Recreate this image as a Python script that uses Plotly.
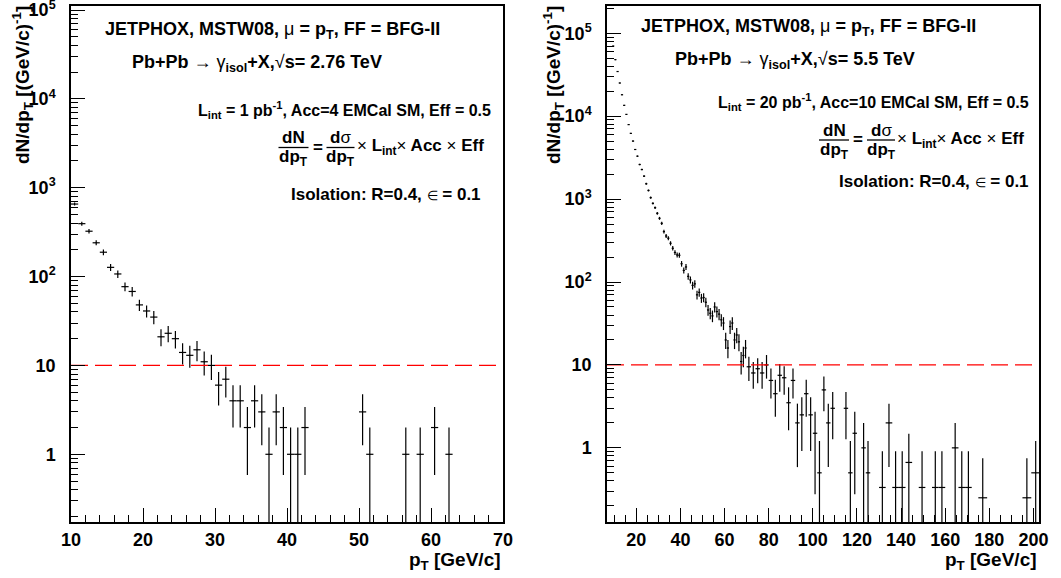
import numpy as np
import plotly.graph_objects as go

W, H = 1061, 578

# ---------------- data ----------------
# Left: Pb+Pb -> gamma_isol + X, sqrt(s)=2.76 TeV, L=1 pb^-1 (1 GeV/c bins)
left_pt = [10.5, 11.5, 12.5, 13.5, 14.5, 15.5, 16.5, 17.5, 18.5, 19.5,
           20.5, 21.5, 22.5, 23.5, 24.5, 25.5, 26.5, 27.5, 28.5, 29.5,
           30.5, 31.5, 32.5, 33.5, 34.5, 35.5, 36.5, 37.5, 38.5, 39.5,
           40.5, 41.5, 42.5, 50.5, 51.5, 56.5, 58.5, 60.5, 62.5]
left_binw = [1, 1, 1, 1, 1, 1, 1, 1, 1, 1,
             1, 1, 1, 1, 1, 1, 1, 1, 1, 1,
             1, 1, 1, 1, 1, 1, 1, 1, 1, 1,
             1, 1, 1, 1, 1, 1, 1, 1, 1]
left_dndpt = [655, 394, 324, 240, 188, 127, 107, 77, 68, 48,
              41, 35, 21, 23, 20, 14, 13, 15, 11, 10,
              6, 7, 4, 4, 2, 4, 3, 1, 3, 2,
              1, 1, 2, 3, 1, 1, 1, 2, 1]

# Right: sqrt(s)=5.5 TeV, L=20 pb^-1 (variable bins)
right_pt = [9.5, 10.5, 11.5, 12.5, 13.5, 14.5, 15.5, 16.5, 17.5, 18.5,
            19.5, 20.5, 21.5, 22.5, 23.5, 24.5, 25.5, 26.5, 27.5, 28.5,
            29.5, 30.5, 31.5, 32.5, 33.5, 34.5, 35.5, 36.5, 37.5, 38.5,
            39.5, 40.5, 41.5, 42.5, 43.5, 44.5, 45.5, 46.5, 47.5, 48.5,
            49.5, 50.5, 51.5, 52.5, 53.5, 54.5, 55.5, 56.5, 57.5, 58.5,
            59.5, 60.5, 61.5, 62.5, 63.5, 64.5, 65.5, 66.5, 67.5, 68.5,
            69.5,
            71, 73, 75, 77, 79, 81, 83, 85, 87, 89,
            91, 93, 95, 97, 99, 101, 103, 105, 107, 109,
            115, 117, 119, 123, 125,
            131.5, 134.5, 137.5, 140.5, 143.5, 149.5, 155.5, 158.5, 164.5, 167.5,
            170.5,
            177, 197, 201]
right_binw = [1] * 61 + [2] * 25 + [3] * 11 + [4] * 3
right_dndpt = [70000, 48000, 34500, 25100, 18100, 13500, 10500, 7900, 6200, 5000,
               3960, 3290, 2610, 2270, 1890, 1530, 1270, 1040, 887, 788,
               673, 586, 510, 405, 359, 337, 293, 255, 227, 212,
               210, 166, 138, 152, 117, 106, 91, 95, 70, 75,
               64, 65, 57, 46, 42, 39, 50, 44, 41, 35,
               32, 20, 16, 29, 32, 20, 23, 19, 11, 13,
               16,
               9.5, 8, 9, 8, 10, 6.5, 4.5, 7.5, 7, 3.5,
               6.5, 2, 2.5, 4.5, 2.5, 1.5, 0.5, 5, 2, 3,
               3, 0.5, 1.5, 1, 0.5,
               0.333, 2, 0.333, 0.333, 0.667, 0.333, 0.333, 0.333, 1, 0.333,
               0.333,
               0.25, 0.25, 0.5]

threshold = 10

y_ticklabels = ["1", "10", "10<sup>2</sup>", "10<sup>3</sup>", "10<sup>4</sup>", "10<sup>5</sup>"]
y_tickvals = [1, 10, 1e2, 1e3, 1e4, 1e5]
left_xticks = [10, 20, 30, 40, 50, 60, 70]
right_xticks = [20, 40, 60, 80, 100, 120, 140, 160, 180, 200]

# ---------------- layout helpers ----------------
def fx(px):
    return px / W

def fy(py):
    return 1 - py / H

FONT = "Liberation Sans"
BLACK = "#000000"

fig = go.Figure()

def add_hist(x, w, y, xa, ya):
    y = np.array(y, dtype=float)
    fig.add_trace(go.Scatter(
        x=x, y=y, mode="markers", xaxis=xa, yaxis=ya,
        marker=dict(size=1, color=BLACK),
        error_y=dict(type="data", array=np.sqrt(y), symmetric=True,
                     color=BLACK, thickness=1.2, width=0),
        error_x=dict(type="data", array=np.array(w, dtype=float) / 2, symmetric=True,
                     color=BLACK, thickness=1.2, width=0),
        showlegend=False, hoverinfo="skip"))

add_hist(left_pt, left_binw, left_dndpt, "x", "y")
add_hist(right_pt, right_binw, right_dndpt, "x2", "y2")

L_XR = [10, 70]
R_XR = [6.7, 202.5]
fig.add_trace(go.Scatter(x=L_XR, y=[threshold, threshold], mode="lines", xaxis="x", yaxis="y",
                         line=dict(color="#ff0000", width=1.3, dash="17px,7px"),
                         showlegend=False, hoverinfo="skip"))
fig.add_trace(go.Scatter(x=R_XR, y=[threshold, threshold], mode="lines", xaxis="x2", yaxis="y2",
                         line=dict(color="#ff0000", width=1.3, dash="17px,7px"),
                         showlegend=False, hoverinfo="skip"))

tickfont = dict(family=FONT, size=18, color=BLACK, weight="bold")
minor_log = [m * 10 ** k for k in range(-1, 6) for m in range(2, 10)]

def xaxis_cfg(domain, rng, major, minor_dtick, minor0, anchor):
    return dict(domain=domain, range=rng, anchor=anchor,
                tickvals=major, ticktext=[str(v) for v in major],
                ticks="inside", ticklen=14, tickwidth=1, tickcolor=BLACK,
                minor=dict(ticks="inside", ticklen=7, tickwidth=1, tickcolor=BLACK,
                           dtick=minor_dtick, tick0=minor0, showgrid=False),
                showline=True, linecolor=BLACK, linewidth=1.5, mirror=True,
                showgrid=False, zeroline=False, tickfont=tickfont,
                automargin=False, ticklabeloverflow="allow",
                ticklabelstandoff=1)

def yaxis_cfg(domain, rng, anchor):
    return dict(domain=domain, type="log", range=rng, anchor=anchor,
                tickvals=y_tickvals, ticktext=y_ticklabels,
                ticks="inside", ticklen=14, tickwidth=1, tickcolor=BLACK,
                minor=dict(ticks="inside", ticklen=7, tickwidth=1, tickcolor=BLACK,
                           tickvals=minor_log, showgrid=False),
                showline=True, linecolor=BLACK, linewidth=1.5, mirror=True,
                showgrid=False, zeroline=False, tickfont=tickfont,
                automargin=False, ticklabeloverflow="allow",
                ticklabelstandoff=10)

ydom = [fy(522), fy(6)]
fig.update_layout(
    width=W, height=H, margin=dict(l=0, r=0, t=0, b=0, autoexpand=False),
    paper_bgcolor="white", plot_bgcolor="white",
    xaxis=xaxis_cfg([fx(71), fx(503)], L_XR, left_xticks, 2, 10, "y"),
    yaxis=yaxis_cfg(ydom, [-0.762, 5.045], "x"),
    xaxis2=xaxis_cfg([fx(607), fx(1039)], R_XR, right_xticks, 5, 0, "y2"),
    yaxis2=yaxis_cfg(ydom, [-0.894, 5.328], "x2"),
)

ann = []

def text(px, py, s, size=16, xanchor="center", yanchor="middle"):
    ann.append(dict(x=fx(px), y=fy(py), xref="paper", yref="paper", text=s, showarrow=False,
                    xanchor=xanchor, yanchor=yanchor,
                    font=dict(family=FONT, size=size, color=BLACK, weight="bold")))

def sym(c, size=None):
    st = "font-weight:normal"
    if size:
        st += ";font-size:%dpx" % size
    return '<span style="%s">%s</span>' % (st, c)

shapes = []

def hline(px0, px1, py):
    shapes.append(dict(type="line", xref="paper", yref="paper", x0=fx(px0), x1=fx(px1),
                       y0=fy(py), y1=fy(py), line=dict(color=BLACK, width=1.3)))

TIMES = sym("×")

def formula(x_dn, y_line):
    text(x_dn, y_line - 10, "dN", size=17)
    text(x_dn, y_line + 11, "dp<sub>T</sub>", size=17)
    hline(x_dn - 15, x_dn + 15, y_line)
    text(x_dn + 24, y_line, "=", size=17)
    text(x_dn + 47, y_line - 10, "d" + sym("σ"), size=17)
    text(x_dn + 47, y_line + 11, "dp<sub>T</sub>", size=17)
    hline(x_dn + 33, x_dn + 61, y_line)
    text(x_dn + 61, y_line, TIMES + " L<sub>int</sub>" + TIMES + " Acc " + TIMES + " Eff",
         size=17, xanchor="left")

line1 = "JETPHOX, MSTW08, " + sym("μ") + " = p<sub>T</sub>, FF = BFG-II"

def line2(e):
    return "Pb+Pb " + sym("→") + " " + sym("γ") + "<sub>isol</sub>+X," + sym("√") + "s= " + e

iso = "Isolation: R=0.4, " + sym("∈", 13) + " = 0.1"

# left panel texts
text(272.5, 30, line1, size=18)
text(257, 63, line2("2.76 TeV"), size=18)
text(493, 110, "L<sub>int</sub> = 1 pb<sup>-1</sup>, Acc=4 EMCal SM, Eff = 0.5", size=16, xanchor="right")
formula(293.5, 147.5)
text(483, 194, iso, size=17, xanchor="right")

# right panel texts
text(808.5, 28, line1, size=18)
text(794.5, 60, line2("5.5 TeV"), size=18)
text(1031, 102, "L<sub>int</sub> = 20 pb<sup>-1</sup>, Acc=10 EMCal SM, Eff = 0.5", size=16, xanchor="right")
formula(834, 140)
text(1031, 182, iso, size=17, xanchor="right")

# axis titles
for xc in (22, 553):
    ann.append(dict(x=fx(xc), y=fy(4), xref="paper", yref="paper",
                    text="dN/dp<sub>T</sub> [(GeV/c)<sup>-1</sup>]", showarrow=False,
                    textangle=-90, xanchor="center", yanchor="top",
                    font=dict(family=FONT, size=19, color=BLACK, weight="bold")))
text(503, 561, "p<sub>T</sub> [GeV/c]", size=19, xanchor="right")
text(1039, 561, "p<sub>T</sub> [GeV/c]", size=19, xanchor="right")

fig.update_layout(annotations=ann, shapes=shapes)
fig.write_html("out.html", config={"displayModeBar": False},
               post_script="document.body.style.margin='0px';document.body.style.padding='0px';")
